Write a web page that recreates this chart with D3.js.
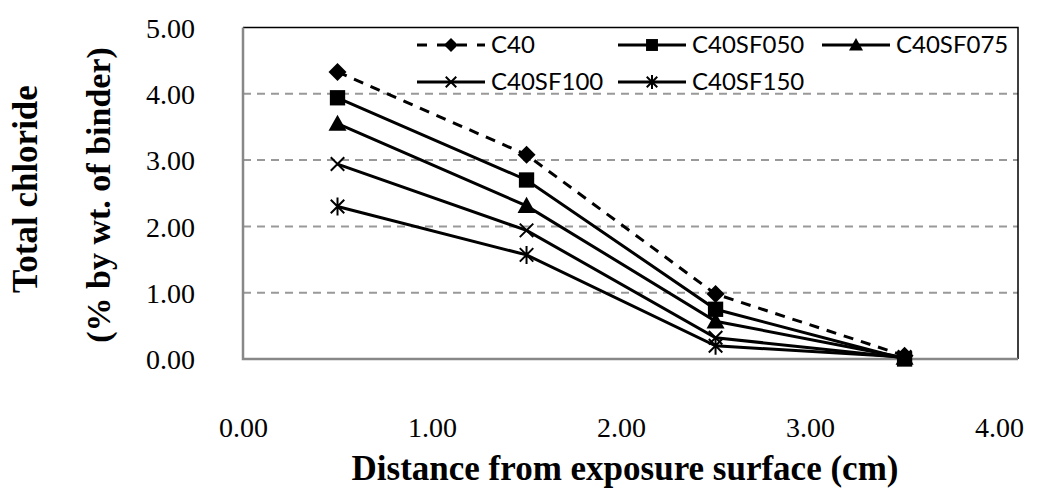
<!DOCTYPE html>
<html>
<head>
<meta charset="utf-8">
<script src="https://cdn.jsdelivr.net/npm/d3@7"></script>
<style>
body { margin: 0; background: #fff; }
svg { display: block; }
</style>
</head>
<body>
<svg width="1054" height="490"></svg>
<script>
'use strict';

// distance from exposure surface (cm)
var distances = [0.5, 1.5, 2.5, 3.5];

var seriesNames = ['C40', 'C40SF050', 'C40SF075', 'C40SF100', 'C40SF150'];
var c40      = [4.33, 3.08, 0.98, 0.05];
var c40sf050 = [3.94, 2.70, 0.75, 0.00];
var c40sf075 = [3.55, 2.31, 0.57, 0.02];
var c40sf100 = [2.94, 1.94, 0.32, 0.02];
var c40sf150 = [2.30, 1.57, 0.20, 0.03];

var xTicks = [0, 1, 2, 3, 4];
var yTicks = [0, 1, 2, 3, 4, 5];

var markers = ['diamond', 'square', 'triangle', 'cross', 'star'];
var dashed = [true, false, false, false, false];

var allValues = [c40, c40sf050, c40sf075, c40sf100, c40sf150];
var series = seriesNames.map(function(name, i){
	return {
		name: name,
		marker: markers[i],
		dashed: dashed[i],
		points: distances.map(function(d, j){ return [d, allValues[i][j]]; })
	};
});

var svg = d3.select('svg');
var pLeft = 243, pRight = 1018, pTop = 27.5, pBottom = 359;

var x = d3.scaleLinear().domain([0, 4.1]).range([pLeft, pRight]);
var y = d3.scaleLinear().domain([0, 5]).range([pBottom, pTop]);

// gridlines
svg.append('g')
	.selectAll('line')
	.data(yTicks.filter(function(d){ return d > 0 && d < 5; }))
	.enter().append('line')
	.attr('x1', pLeft).attr('x2', pRight)
	.attr('y1', function(d){ return y(d); })
	.attr('y2', function(d){ return y(d); })
	.attr('stroke', '#999')
	.attr('stroke-width', 2)
	.attr('stroke-dasharray', '8,6');

// frame: top and right black, axes grey
svg.append('path')
	.attr('d', 'M' + pLeft + ',' + pTop + 'H' + pRight + 'V' + pBottom)
	.attr('fill', 'none')
	.attr('stroke', '#000')
	.attr('stroke-width', 1.5);
svg.append('path')
	.attr('d', 'M' + pLeft + ',' + pTop + 'V' + pBottom + 'H' + pRight)
	.attr('fill', 'none')
	.attr('stroke', '#888')
	.attr('stroke-width', 2.5);

// axes labels
var yAxis = svg.append('g')
	.attr('transform', 'translate(' + (pLeft - 48) + ',0)')
	.call(d3.axisLeft(y).tickValues(yTicks).tickFormat(d3.format('.2f')).tickSize(0));
var xAxis = svg.append('g')
	.attr('transform', 'translate(0,' + (pBottom + 58) + ')')
	.call(d3.axisBottom(x).tickValues(xTicks).tickFormat(d3.format('.2f')).tickSize(0));
[yAxis, xAxis].forEach(function(a){
	a.select('.domain').remove();
	a.selectAll('text')
		.attr('fill', '#000')
		.style('font-family', '"Liberation Serif", "Times New Roman", serif')
		.style('font-size', '28px');
});
yAxis.selectAll('text').attr('x', 0).attr('dy', '0.35em');
xAxis.selectAll('text').attr('y', 0).attr('dy', '0.71em');

// axis titles
var titleFont = '"Liberation Serif", "Times New Roman", serif';
svg.append('text')
	.attr('transform', 'translate(37,189) rotate(-90)')
	.attr('text-anchor', 'middle')
	.style('font-family', titleFont)
	.style('font-weight', 'bold')
	.style('font-size', '35px')
	.text('Total chloride');
svg.append('text')
	.attr('transform', 'translate(110,195) rotate(-90)')
	.attr('text-anchor', 'middle')
	.style('font-family', titleFont)
	.style('font-weight', 'bold')
	.style('font-size', '34px')
	.text('(% by wt. of binder)');
svg.append('text')
	.attr('x', 625).attr('y', 480)
	.attr('text-anchor', 'middle')
	.style('font-family', titleFont)
	.style('font-weight', 'bold')
	.style('font-size', '35px')
	.text('Distance from exposure surface (cm)');

function drawMarker(g, type, s){
	var c = s*0.75;
	if (type == 'diamond'){
		g.append('path').attr('d', 'M0,' + (-s) + 'L' + s + ',0L0,' + s + 'L' + (-s) + ',0Z').attr('fill', '#000');
	} else if (type == 'square'){
		g.append('rect').attr('x', -s*0.85).attr('y', -s*0.85).attr('width', s*1.7).attr('height', s*1.7).attr('fill', '#000');
	} else if (type == 'triangle'){
		g.append('path').attr('d', 'M0,' + (-s) + 'L' + s + ',' + (s*0.8) + 'L' + (-s) + ',' + (s*0.8) + 'Z').attr('fill', '#000');
	} else if (type == 'cross'){
		g.append('path').attr('d', 'M' + (-c) + ',' + (-c) + 'L' + c + ',' + c + 'M' + c + ',' + (-c) + 'L' + (-c) + ',' + c)
			.attr('stroke', '#000').attr('stroke-width', 2);
	} else if (type == 'star'){
		g.append('path').attr('d', 'M' + (-c) + ',' + (-c) + 'L' + c + ',' + c + 'M' + c + ',' + (-c) + 'L' + (-c) + ',' + c + 'M0,' + (-s) + 'V' + s)
			.attr('stroke', '#000').attr('stroke-width', 2);
	}
}

var line = d3.line()
	.x(function(d){ return x(d[0]); })
	.y(function(d){ return y(d[1]); });

var plot = svg.append('g');
series.slice().reverse().forEach(function(s){
	plot.append('path')
		.datum(s.points)
		.attr('d', line)
		.attr('fill', 'none')
		.attr('stroke', '#000')
		.attr('stroke-width', 3)
		.attr('stroke-dasharray', s.dashed ? '10,8' : null);
	s.points.forEach(function(p){
		var g = plot.append('g').attr('transform', 'translate(' + x(p[0]) + ',' + y(p[1]) + ')');
		drawMarker(g, s.marker, 9);
	});
});

// legend
var legendPos = [[417, 45], [618, 45], [822, 45], [417, 82], [618, 82]];
series.forEach(function(s, i){
	var lg = svg.append('g').attr('transform', 'translate(' + legendPos[i][0] + ',' + legendPos[i][1] + ')');
	lg.append('line')
		.attr('x1', 0).attr('x2', 68).attr('y1', 0).attr('y2', 0)
		.attr('stroke', '#000').attr('stroke-width', 3)
		.attr('stroke-dasharray', s.dashed ? '10,10' : null);
	drawMarker(lg.append('g').attr('transform', 'translate(34,0)'), s.marker, 7);
	lg.append('text')
		.attr('x', 74).attr('y', 0).attr('dy', '0.35em')
		.style('font-family', 'Lato, "Open Sans", sans-serif')
		.style('font-size', '24px')
		.text(s.name);
});
</script>
</body>
</html>
